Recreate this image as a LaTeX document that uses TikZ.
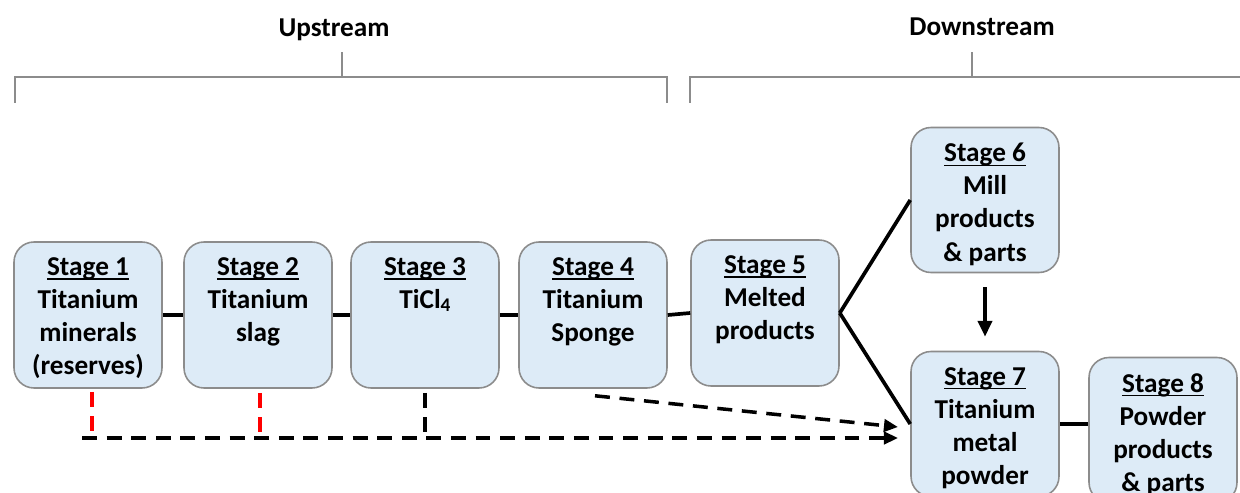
\documentclass[tikz,border=0pt]{standalone}
\usepackage{fontspec}
\setmainfont{Carlito}
\usetikzlibrary{positioning,arrows.meta,calc}
\definecolor{boxfill}{HTML}{DDEBF7}
\definecolor{boxline}{HTML}{8C8C8C}
\definecolor{dashred}{HTML}{FF0000}
\tikzset{
  stagebox/.style={draw=boxline,line width=0.9pt,fill=boxfill,rounded corners=0.4cm,inner sep=0pt},
  headlabel/.style={font=\bfseries\fontsize{15.5}{18.8}\selectfont},
  link/.style={line width=2.1pt},
  flow/.style={line width=2pt,dash pattern=on 8.5pt off 5.5pt},
  bracket/.style={draw=boxline,line width=0.8pt}
}
\newlength\stagew
\newcommand{\stageul}[1]{\leavevmode\settowidth{\stagew}{#1}\rlap{\rule[-2.4pt]{\stagew}{0.9pt}}#1}
\newcommand{\stagetext}[3]{\parbox[c][#1][t]{2.96cm}{\centering\bfseries\fontsize{15.5}{18.8}\selectfont
  \vspace*{9pt}\stageul{Stage #2}\\#3}}

\begin{document}
\begin{tikzpicture}[x=0.02cm,y=-0.02cm]
  \useasboundingbox (0,0) rectangle (1240,493);

  % brackets
  \node(up)[headlabel] at (334,30) {Upstream};
  \node(down)[headlabel] at (982,27) {Downstream};
  \draw[bracket] (15,103) -- (15,77) -- (667,77) -- (667,103);
  \draw[bracket] (342,77) -- (342,52);
  \draw[bracket] (690,103) -- (690,77) -- (1250,77);
  \draw[bracket] (972,77) -- (972,52);

  % stages
  \node(s1)[stagebox] at (88,315) {\stagetext{2.92cm}{1}{Titanium\\minerals\\(reserves)}};
  \node(s2)[stagebox] at (258,315) {\stagetext{2.92cm}{2}{Titanium\\slag}};
  \node(s3)[stagebox] at (425,315) {\stagetext{2.92cm}{3}{TiCl\raisebox{-0.2ex}{\fontsize{11}{11}\selectfont 4}}};
  \node(s4)[stagebox] at (593,315) {\stagetext{2.92cm}{4}{Titanium\\Sponge}};
  \node(s5)[stagebox] at (765,313) {\stagetext{2.92cm}{5}{Melted\\products}};
  \node(s6)[stagebox] at (985,200) {\stagetext{2.9cm}{6}{Mill\\products\\\& parts}};
  \node(s7)[stagebox] at (985,424) {\stagetext{2.9cm}{7}{Titanium\\metal\\powder}};
  \node(s8)[stagebox] at (1163,430) {\stagetext{2.9cm}{8}{Powder\\products\\\& parts}};

  % solid links
  \draw[link] (s1.east) -- (s2.west);
  \draw[link] (s2.east) -- (s3.west);
  \draw[link] (s3.east) -- (s4.west);
  \draw[link] (s4.east) -- (s5.west);
  \draw[link] (s5.east) -- (s6.west);
  \draw[link] (s5.east) -- (s7.west);
  \draw[link] (s7.east) -- (s7.east -| s8.west);
  \draw[link,-{Triangle[length=9pt,width=8pt]},shorten <=8pt,shorten >=8pt] (s6.south) -- (s7.north);

  % dashed flows to stage 7
  \coordinate(start) at (82,438);
  \coordinate(j1) at (92,438);
  \coordinate(j2) at (260,438);
  \coordinate(j3) at (425,438);
  \coordinate(end1) at (898,438);
  \coordinate(end2) at (898,427);
  \draw[flow,dashred] ($(s1.south -| j1)+(0,3)$) -- (j1);
  \draw[flow,dashred] ($(s2.south -| j2)+(0,4)$) -- (j2);
  \draw[flow] ($(s3.south -| j3)+(0,4)$) -- (j3);
  \draw[flow,-{Triangle[length=8pt,width=7pt]}] (start) -- (end1);
  \draw[flow,-{Triangle[length=8pt,width=7pt]}] ($(s4.south)+(2,7)$) -- (end2);
\end{tikzpicture}
\end{document}
